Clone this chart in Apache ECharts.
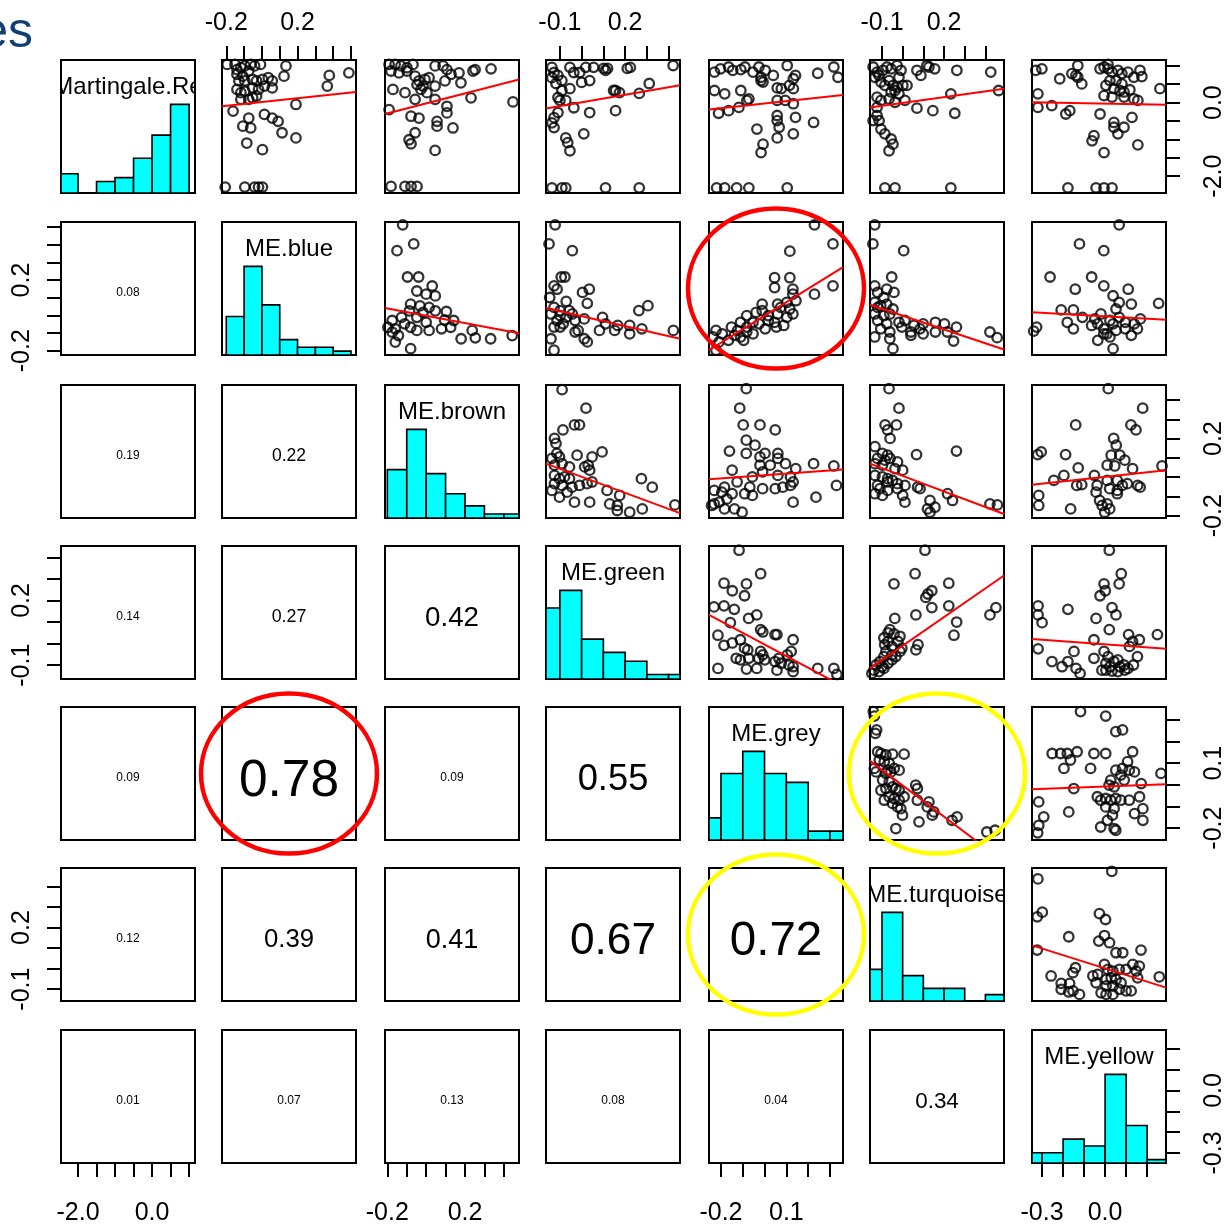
<!DOCTYPE html>
<html>
<head>
<meta charset="utf-8">
<script src="https://cdn.jsdelivr.net/npm/echarts@6/dist/echarts.min.js"></script>
<style>
  html, body { margin: 0; padding: 0; background: #fff; }
  #chart { width: 1230px; height: 1230px; }
</style>
</head>
<body>
<div id="chart"></div>
<script>
// 变量与坐标范围
const varNames = ['Martingale.Re', 'ME.blue', 'ME.brown', 'ME.green', 'ME.grey', 'ME.turquoise', 'ME.yellow']
const axisMin = [-2.46, -0.224, -0.212, -0.164, -0.255, -0.158, -0.348]
const axisMax = [1.16, 0.528, 0.478, 0.4525, 0.36, 0.49, 0.29]
const tickVals = [
  [-2.0, -1.5, -1.0, -0.5, 0.0, 0.5, 1.0],
  [-0.2, -0.1, 0.0, 0.1, 0.2, 0.3, 0.4, 0.5],
  [-0.2, -0.1, 0.0, 0.1, 0.2, 0.3, 0.4],
  [-0.1, 0.0, 0.1, 0.2, 0.3, 0.4],
  [-0.2, -0.1, 0.0, 0.1, 0.2, 0.3],
  [-0.1, 0.0, 0.1, 0.2, 0.3, 0.4],
  [-0.3, -0.2, -0.1, 0.0, 0.1, 0.2]
]
const labelVals = [[-2.0, 0.0], [-0.2, 0.2], [-0.2, 0.2], [-0.1, 0.2], [-0.2, 0.1], [-0.1, 0.2], [-0.3, 0.0]]

// 直方图（分箱边界 + 计数）
const histEdges = [
  [-2.5, -2.0, -1.5, -1.0, -0.5, 0.0, 0.5, 1.0],
  [-0.2, -0.1, 0.0, 0.1, 0.2, 0.3, 0.4, 0.5],
  [-0.2, -0.1, 0.0, 0.1, 0.2, 0.3, 0.4, 0.5],
  [-0.2, -0.1, 0.0, 0.1, 0.2, 0.3, 0.4, 0.5],
  [-0.3, -0.2, -0.1, 0.0, 0.1, 0.2, 0.3, 0.4],
  [-0.2, -0.1, 0.0, 0.1, 0.2, 0.3, 0.4, 0.5],
  [-0.4, -0.3, -0.2, -0.1, 0.0, 0.1, 0.2, 0.3]
]
const histCounts = [
  [5, 0, 3, 4, 9, 15, 23],
  [10, 23, 13, 4, 2, 2, 1],
  [12, 22, 11, 6, 3, 1, 1],
  [16, 20, 9, 6, 4, 1, 1],
  [5, 15, 20, 15, 13, 2, 2],
  [10, 28, 8, 4, 4, 0, 2],
  [3, 3, 7, 5, 26, 11, 1]
]

// 下三角相关系数（按行）
const corValues = [0.08, 0.19, 0.22, 0.14, 0.27, 0.42, 0.09, 0.78, 0.09, 0.55,
  0.12, 0.39, 0.41, 0.67, 0.72, 0.01, 0.07, 0.13, 0.08, 0.04, 0.34]

// 上三角散点 [x, y]：x 为列变量，y 为行变量
const pts01 = [[-0.14,0.90],[-0.118,0.95],[-0.096,1.0],[-0.063,1.04],[-0.041,1.0],[-0.14,0.77],[-0.107,0.72],[-0.074,0.86],[-0.052,0.63],[-0.008,1.04],[-0.129,0.59],[-0.096,0.59],[-0.03,0.59],[0.003,0.63],[0.036,0.68],[0.058,0.59],[-0.14,0.36],[-0.118,0.27],[-0.096,0.31],[-0.052,0.40],[-0.019,0.36],[0.014,0.45],[0.058,0.40],[0.124,0.72],[0.135,1.0],[-0.052,0.13],[-0.118,0.09],[-0.074,0.09],[-0.03,0.18],[-0.162,-0.23],[-0.074,-0.42],[-0.107,-0.64],[-0.063,-0.69],[0.014,-0.32],[0.058,-0.42],[0.091,-0.51],[0.191,-0.05],[0.113,-0.82],[0.191,-0.96],[-0.085,-1.10],[0.003,-1.28],[0.367,0.45],[0.378,0.74],[0.488,0.81],[-0.195,1.04],[-0.151,1.04],[-0.206,-2.30],[-0.096,-2.30],[-0.041,-2.30],[-0.019,-2.30],[0.003,-2.30]]
const pts02 = [[-0.191,1.04],[-0.16,1.04],[-0.13,1.0],[-0.099,0.95],[-0.068,1.04],[-0.181,0.86],[-0.14,0.81],[-0.099,0.86],[-0.057,0.72],[-0.037,0.59],[-0.006,0.63],[0.015,0.68],[0.046,1.0],[0.087,1.0],[0.107,0.90],[0.128,0.77],[-0.016,0.45],[0.004,0.27],[-0.027,0.36],[-0.047,0.49],[0.046,0.45],[0.097,0.59],[0.179,0.54],[0.241,0.86],[0.252,0.90],[0.334,0.92],[-0.171,0.36],[-0.109,0.27],[-0.057,0.09],[0.046,0.09],[0.107,-0.10],[0.107,-0.28],[0.231,0.13],[0.447,0.02],[-0.191,-0.19],[-0.078,-0.37],[-0.037,-0.42],[0.056,-0.51],[0.056,-0.64],[0.138,-0.69],[-0.057,-0.82],[-0.088,-1.01],[-0.078,-1.12],[0.046,-1.30],[0.169,0.81],[-0.181,-2.28],[-0.109,-2.28],[-0.078,-2.28],[-0.047,-2.28]]
const pts03 = [[-0.137,0.96],[-0.127,0.82],[-0.109,0.74],[-0.137,0.68],[-0.091,0.60],[-0.118,0.52],[-0.054,0.96],[-0.036,0.82],[-0.009,0.82],[0.019,0.96],[0.055,0.96],[0.037,0.60],[0.0,0.55],[-0.054,0.38],[-0.091,0.33],[-0.109,0.14],[-0.10,0.06],[-0.073,0.06],[-0.036,-0.14],[0.037,-0.27],[-0.109,-0.27],[-0.127,-0.41],[-0.137,-0.55],[-0.127,-0.68],[-0.073,-0.96],[-0.064,-1.09],[-0.054,-1.31],[0.010,-0.85],[0.110,0.88],[0.147,0.33],[-0.137,-2.32],[-0.091,-2.32],[-0.073,-2.32],[0.101,0.93],[0.119,0.93],[0.210,0.93],[0.224,0.96],[0.421,1.01],[0.156,0.33],[0.174,0.27],[0.265,0.25],[0.311,0.52],[0.156,-0.22],[0.110,-2.32],[0.265,-2.32]]
const pts04 = [[-0.230,0.83],[-0.202,0.92],[-0.165,0.97],[-0.146,0.88],[-0.109,0.90],[-0.090,0.97],[-0.053,0.83],[-0.026,0.97],[0.003,0.88],[-0.016,0.69],[-0.007,0.56],[0.040,0.74],[0.058,0.40],[0.077,0.38],[0.104,1.01],[0.132,0.65],[0.142,0.74],[0.114,0.47],[0.132,0.38],[-0.230,0.33],[-0.183,0.24],[-0.109,0.33],[-0.081,0.06],[-0.072,0.10],[-0.118,-0.13],[-0.165,-0.22],[-0.211,-0.29],[-0.016,0.60],[0.058,0.06],[0.095,0.06],[0.132,-0.03],[0.058,-0.35],[0.058,-0.49],[0.067,-0.67],[0.142,-0.40],[0.225,-0.54],[-0.035,-0.72],[0.058,-0.96],[0.132,-0.85],[-0.007,-1.13],[-0.016,-1.36],[0.318,0.97],[0.337,0.69],[0.244,0.80],[-0.220,-2.32],[-0.183,-2.32],[-0.128,-2.32],[-0.072,-2.32],[0.104,-2.32]]
const pts05 = [[-0.143,0.97],[-0.124,0.83],[-0.134,0.69],[-0.114,0.74],[-0.095,0.88],[-0.076,0.97],[-0.056,0.92],[-0.027,1.01],[-0.008,0.88],[-0.018,0.69],[-0.066,0.60],[-0.105,0.56],[-0.086,0.47],[-0.047,0.47],[-0.027,0.42],[0.001,0.47],[0.021,0.47],[-0.037,0.33],[-0.056,0.29],[-0.018,0.24],[-0.124,0.15],[-0.105,0.06],[-0.066,0.10],[-0.037,0.01],[0.011,0.06],[-0.124,-0.13],[-0.124,-0.35],[-0.143,-0.49],[-0.114,-0.49],[-0.105,-0.72],[-0.086,-0.85],[-0.056,-0.99],[-0.047,-1.13],[-0.066,-1.31],[0.069,0.88],[0.088,0.74],[0.127,0.97],[0.155,0.92],[0.262,0.88],[0.426,0.83],[0.464,0.33],[0.233,0.24],[0.069,-0.15],[0.146,-0.22],[0.252,-0.29],[-0.086,-2.32],[-0.037,-2.32],[0.233,-2.32],[0.117,1.01]]
const pts06 = [[-0.330,0.88],[-0.301,0.92],[-0.320,0.24],[-0.320,-0.13],[-0.254,-0.08],[-0.216,0.65],[-0.158,0.79],[-0.139,0.74],[-0.130,0.69],[-0.130,1.01],[-0.187,-0.31],[-0.168,-0.22],[-0.024,0.92],[-0.005,0.97],[0.014,0.92],[0.033,0.83],[0.061,0.88],[0.080,0.79],[0.109,0.83],[0.137,0.69],[0.166,0.88],[0.175,0.71],[0.023,0.60],[0.052,0.60],[0.080,0.51],[0.004,0.47],[0.042,0.38],[0.071,0.33],[0.090,0.29],[0.118,0.35],[-0.005,0.19],[0.033,0.15],[0.090,0.15],[0.137,0.10],[0.156,0.06],[0.261,0.38],[-0.024,-0.31],[0.042,-0.54],[0.042,-0.67],[0.090,-0.67],[0.128,-0.40],[0.061,-0.85],[-0.053,-0.90],[-0.062,-1.04],[-0.005,-1.36],[0.156,-1.15],[-0.177,-2.32],[-0.043,-2.32],[-0.005,-2.32],[0.033,-2.32],[0.014,1.04],[-0.111,0.51]]
const pts12 = [[-0.121,0.512],[-0.150,0.366],[-0.064,0.404],[-0.096,0.217],[-0.039,0.217],[-0.048,0.138],[0.031,0.166],[0.0,0.120],[0.047,0.110],[-0.080,0.064],[-0.032,0.054],[0.015,0.045],[-0.086,0.026],[-0.016,0.017],[0.047,0.026],[0.104,0.022],[-0.175,-0.029],[-0.127,-0.011],[-0.048,-0.011],[0.0,-0.039],[0.095,-0.026],[0.142,-0.029],[-0.197,-0.067],[-0.159,-0.076],[-0.175,-0.095],[-0.143,-0.114],[-0.080,-0.067],[-0.048,-0.085],[0.015,-0.085],[0.079,-0.076],[0.126,-0.067],[-0.159,-0.151],[-0.080,-0.188],[0.237,-0.085],[0.253,-0.127],[0.332,-0.132],[0.180,-0.132],[0.443,-0.114],[-0.111,-0.048]]
const pts13 = [[-0.122,0.512],[-0.150,0.404],[-0.043,0.366],[-0.094,0.217],[-0.077,0.217],[-0.127,0.167],[-0.113,0.148],[0.004,0.130],[0.035,0.148],[-0.147,0.101],[-0.071,0.079],[0.026,0.068],[-0.127,0.045],[-0.099,0.027],[-0.057,0.027],[-0.141,0.008],[-0.099,-0.001],[-0.071,-0.011],[-0.043,0.008],[-0.113,-0.029],[-0.085,-0.048],[-0.127,-0.066],[-0.099,-0.066],[-0.030,-0.029],[0.012,-0.020],[0.096,-0.011],[0.110,-0.048],[0.166,-0.057],[0.221,-0.057],[0.263,0.027],[0.305,0.055],[0.277,-0.076],[0.152,-0.085],[0.082,-0.085],[-0.016,-0.085],[0.012,-0.132],[0.026,-0.150],[-0.141,-0.132],[-0.127,-0.197],[0.422,-0.085],[0.221,-0.104],[-0.030,-0.094]]
const pts14 = [[-0.223,-0.085],[-0.194,-0.104],[-0.237,-0.122],[-0.209,-0.150],[-0.166,-0.141],[-0.138,-0.113],[-0.110,-0.122],[-0.124,-0.085],[-0.152,-0.066],[-0.082,-0.066],[-0.053,-0.104],[-0.096,-0.141],[-0.110,-0.039],[-0.053,-0.039],[-0.025,-0.048],[-0.082,-0.001],[-0.039,0.017],[-0.011,0.027],[0.003,-0.076],[0.017,-0.029],[0.046,-0.039],[0.060,0.008],[0.054,-0.066],[0.088,-0.057],[0.102,-0.011],[0.060,0.064],[0.102,0.073],[0.116,0.036],[0.130,0.008],[0.144,0.083],[0.130,0.120],[0.130,0.148],[0.046,0.157],[0.046,0.213],[0.116,0.213],[0.116,0.363],[0.229,0.120],[0.314,0.167],[0.314,0.404],[0.229,0.512],[-0.223,-0.197],[-0.082,-0.094],[0.017,-0.001],[-0.011,0.064],[0.074,0.045]]
const pts15 = [[-0.135,0.512],[-0.144,0.404],[0.005,0.366],[-0.053,0.217],[-0.135,0.167],[-0.077,0.148],[-0.121,0.130],[-0.042,0.130],[-0.091,0.101],[-0.135,0.073],[-0.106,0.055],[-0.077,0.064],[-0.047,0.036],[-0.135,0.008],[-0.091,-0.001],[-0.062,0.008],[-0.121,-0.029],[-0.077,-0.048],[-0.018,-0.039],[0.011,-0.029],[-0.106,-0.076],[-0.062,-0.094],[-0.004,-0.066],[0.055,-0.057],[0.099,-0.048],[0.158,-0.039],[0.202,-0.048],[0.260,-0.066],[0.040,-0.094],[0.099,-0.104],[0.158,-0.094],[0.216,-0.094],[-0.135,-0.122],[-0.062,-0.132],[0.040,-0.113],[-0.047,-0.188],[0.246,-0.145],[0.422,-0.094],[0.457,-0.126],[0.084,-0.076],[-0.121,0.045]]
const pts16 = [[0.067,0.512],[-0.122,0.404],[-0.006,0.366],[-0.262,0.217],[-0.064,0.217],[-0.142,0.148],[-0.006,0.167],[0.110,0.148],[0.038,0.111],[-0.209,0.031],[-0.151,0.031],[-0.180,-0.039],[-0.326,-0.066],[-0.340,-0.089],[-0.151,-0.076],[-0.049,-0.020],[-0.020,0.008],[0.052,0.036],[0.067,0.073],[0.125,0.064],[0.255,0.068],[-0.035,-0.048],[-0.006,-0.076],[0.023,-0.029],[0.038,-0.048],[0.067,-0.011],[0.096,-0.039],[0.139,-0.048],[0.168,-0.020],[0.009,-0.104],[0.052,-0.085],[0.096,-0.076],[0.125,-0.113],[0.154,-0.076],[-0.035,-0.141],[0.023,-0.122],[0.038,-0.188],[-0.064,-0.057],[-0.108,-0.011],[-0.006,-0.104]]
const pts23 = [[-0.090,0.454],[0.020,0.358],[-0.033,0.271],[-0.010,0.271],[-0.086,0.245],[-0.125,0.201],[-0.118,0.175],[-0.114,0.123],[-0.137,0.097],[-0.102,0.105],[-0.125,0.062],[-0.090,0.070],[-0.056,0.053],[-0.021,0.114],[0.014,0.053],[0.037,0.036],[0.048,0.105],[0.094,0.131],[0.030,0.062],[-0.125,0.009],[-0.102,-0.008],[-0.079,0.001],[-0.056,-0.008],[-0.125,-0.034],[-0.090,-0.043],[-0.044,-0.052],[-0.010,-0.043],[0.025,-0.034],[0.048,-0.025],[-0.137,-0.069],[-0.102,-0.104],[-0.033,-0.130],[0.037,-0.130],[0.117,-0.069],[0.175,-0.095],[0.129,-0.139],[0.164,-0.147],[0.164,-0.173],[0.221,-0.182],[0.279,-0.165],[0.275,-0.008],[0.325,-0.052],[0.429,-0.144],[-0.067,-0.078]]
const pts24 = [[-0.084,0.459],[-0.114,0.358],[-0.098,0.271],[-0.021,0.271],[0.049,0.245],[-0.084,0.192],[-0.044,0.166],[-0.161,0.135],[-0.084,0.123],[-0.021,0.105],[0.002,0.123],[0.061,0.123],[0.061,0.097],[-0.021,0.062],[0.026,0.062],[0.096,0.070],[0.143,0.044],[0.225,0.070],[0.318,0.058],[-0.149,0.036],[-0.009,0.027],[0.061,0.009],[0.119,0.001],[0.131,-0.025],[-0.056,0.001],[-0.126,-0.025],[-0.184,-0.052],[-0.231,-0.069],[-0.196,-0.078],[-0.149,-0.086],[-0.091,-0.086],[-0.068,-0.052],[-0.009,-0.060],[0.049,-0.060],[0.084,-0.052],[0.119,-0.043],[-0.173,-0.113],[-0.231,-0.139],[-0.184,-0.165],[-0.138,-0.165],[-0.103,-0.182],[-0.056,-0.095],[0.131,-0.130],[0.236,-0.104],[0.330,-0.043],[-0.208,-0.130],[-0.243,-0.147]]
const pts25 = [[-0.066,0.459],[-0.018,0.358],[-0.085,0.271],[-0.030,0.271],[-0.073,0.245],[-0.061,0.201],[-0.134,0.158],[-0.098,0.123],[-0.073,0.114],[-0.061,0.097],[-0.025,0.079],[-0.134,0.070],[-0.098,0.062],[-0.037,0.044],[0.0,0.036],[-0.134,0.009],[-0.098,0.001],[-0.073,-0.008],[-0.049,-0.017],[-0.025,-0.034],[0.011,-0.043],[0.072,-0.052],[0.084,-0.060],[-0.122,-0.043],[-0.110,-0.060],[-0.073,-0.069],[-0.025,-0.060],[-0.134,-0.086],[-0.098,-0.095],[0.0,-0.095],[0.011,-0.130],[0.132,-0.121],[0.120,-0.165],[0.132,-0.182],[0.156,-0.156],[0.241,-0.121],[0.217,-0.086],[0.260,0.135],[0.067,0.117],[0.422,-0.139],[0.458,-0.144],[-0.073,-0.025],[-0.085,0.088],[-0.122,0.097]]
const pts26 = [[0.015,0.459],[0.179,0.358],[-0.140,0.271],[0.123,0.271],[0.147,0.245],[0.041,0.201],[0.053,0.166],[-0.304,0.131],[-0.321,0.117],[-0.188,0.117],[0.029,0.114],[0.070,0.114],[0.094,0.088],[-0.128,0.048],[0.010,0.062],[0.046,0.058],[0.131,0.044],[0.271,0.058],[-0.244,-0.017],[-0.196,0.009],[-0.135,-0.043],[-0.111,-0.039],[-0.038,-0.043],[0.010,-0.017],[0.058,-0.017],[0.082,-0.043],[0.106,-0.034],[0.155,-0.043],[0.167,-0.052],[0.022,-0.060],[0.058,-0.069],[-0.043,-0.078],[-0.316,-0.095],[-0.316,-0.147],[-0.164,-0.165],[-0.026,-0.121],[-0.014,-0.147],[0.010,-0.139],[0.022,-0.165],[-0.002,-0.182],[0.058,-0.086],[-0.051,0.009]]
const pts34 = [[-0.117,0.433],[-0.018,0.324],[-0.186,0.280],[-0.083,0.277],[-0.148,0.245],[-0.092,0.222],[-0.232,0.170],[-0.186,0.175],[-0.139,0.159],[-0.036,0.133],[-0.073,0.117],[-0.157,0.097],[-0.018,0.065],[-0.008,0.054],[0.048,0.042],[0.057,0.042],[-0.214,0.039],[0.131,0.018],[-0.111,0.018],[-0.148,0.003],[-0.186,-0.008],[-0.092,-0.021],[-0.077,-0.029],[-0.018,-0.036],[-0.008,-0.052],[-0.130,-0.068],[-0.111,-0.075],[-0.073,-0.068],[-0.027,-0.068],[0.001,-0.075],[0.066,-0.068],[0.104,-0.052],[0.122,-0.036],[0.048,-0.083],[0.076,-0.091],[0.112,-0.099],[0.131,-0.107],[0.057,-0.123],[0.131,-0.130],[-0.036,-0.115],[-0.083,-0.118],[-0.214,-0.115],[0.244,-0.115],[0.318,-0.115],[0.332,-0.143]]
const pts35 = [[0.108,0.433],[0.060,0.324],[-0.042,0.277],[0.141,0.245],[0.122,0.230],[0.223,0.280],[0.112,0.214],[0.141,0.167],[0.223,0.175],[0.451,0.167],[0.422,0.133],[0.064,0.133],[-0.038,0.117],[0.261,0.100],[0.248,0.039],[0.074,-0.005],[0.064,-0.029],[-0.062,0.065],[-0.071,0.050],[-0.042,0.045],[-0.091,0.026],[-0.013,0.034],[-0.087,-0.005],[-0.052,-0.013],[-0.023,0.010],[-0.004,-0.021],[-0.081,-0.036],[-0.052,-0.052],[-0.033,-0.060],[-0.091,-0.060],[-0.110,-0.083],[-0.071,-0.091],[-0.052,-0.075],[-0.129,-0.099],[-0.100,-0.107],[-0.139,-0.123],[-0.114,-0.130],[-0.149,-0.138],[-0.091,-0.115],[-0.013,-0.036],[-0.071,0.010]]
const pts36 = [[0.020,0.433],[0.077,0.324],[0.067,0.277],[-0.005,0.277],[0.001,0.245],[-0.024,0.222],[-0.319,0.175],[-0.319,0.133],[-0.300,0.097],[-0.177,0.159],[0.033,0.167],[-0.043,0.117],[0.052,0.133],[0.020,0.065],[0.112,0.042],[0.163,0.018],[0.249,0.042],[-0.053,0.018],[-0.319,-0.024],[-0.253,-0.083],[-0.205,-0.107],[-0.177,-0.083],[-0.138,-0.115],[-0.119,-0.138],[-0.148,-0.036],[-0.053,-0.068],[-0.005,-0.036],[0.014,-0.060],[0.004,-0.091],[0.023,-0.107],[0.004,-0.123],[0.042,-0.083],[0.061,-0.075],[0.071,-0.107],[0.090,-0.099],[0.109,-0.115],[0.116,-0.013],[0.131,0.010],[0.154,-0.060],[-0.015,-0.123],[0.033,-0.127],[0.061,-0.130],[0.094,-0.123],[0.135,-0.099]]
const pts45 = [[-0.142,0.339],[-0.137,0.318],[-0.126,0.254],[-0.132,0.238],[-0.121,0.153],[-0.105,0.145],[-0.081,0.138],[-0.049,0.142],[0.007,0.142],[-0.113,0.115],[-0.089,0.107],[-0.065,0.099],[-0.041,0.076],[-0.017,0.068],[-0.137,0.076],[-0.129,0.060],[-0.081,0.053],[-0.057,0.060],[-0.097,0.022],[-0.065,0.014],[-0.081,-0.017],[-0.105,-0.025],[-0.049,-0.009],[-0.033,-0.017],[-0.017,-0.025],[-0.065,-0.055],[-0.041,-0.063],[-0.089,-0.071],[-0.017,-0.071],[0.007,-0.055],[-0.049,-0.086],[-0.025,-0.102],[-0.009,-0.110],[-0.001,-0.140],[0.063,-0.001],[0.071,-0.017],[0.071,-0.071],[0.127,-0.079],[0.119,-0.102],[0.151,-0.125],[0.143,-0.140],[0.079,-0.171],[0.239,-0.164],[0.263,-0.148],[0.407,-0.218],[0.447,-0.210],[-0.033,-0.202],[-0.073,0.068]]
const pts46 = [[-0.117,0.339],[0.003,0.318],[0.051,0.246],[0.083,0.254],[-0.252,0.145],[-0.212,0.145],[-0.180,0.145],[-0.133,0.153],[-0.165,0.115],[-0.196,0.076],[-0.053,0.145],[0.003,0.145],[0.131,0.153],[-0.069,0.076],[0.107,0.107],[0.051,0.068],[0.083,0.076],[0.115,0.068],[0.140,0.060],[0.075,0.045],[0.027,0.022],[0.091,0.022],[0.172,0.006],[0.266,0.053],[-0.149,-0.017],[0.019,-0.001],[0.043,-0.009],[-0.316,-0.079],[-0.292,-0.148],[-0.316,-0.187],[-0.321,-0.222],[-0.173,-0.125],[-0.037,-0.055],[-0.021,-0.071],[0.003,-0.063],[0.027,-0.071],[0.051,-0.063],[0.075,-0.071],[0.115,-0.071],[0.164,-0.055],[0.003,-0.102],[0.043,-0.110],[0.180,-0.110],[0.140,-0.133],[0.180,-0.164],[0.035,-0.140],[-0.021,-0.195],[0.043,-0.202],[0.051,-0.210],[0.011,-0.164]]
const pts56 = [[0.032,0.474],[-0.320,0.437],[-0.299,0.275],[-0.323,0.252],[-0.027,0.268],[0.002,0.239],[-0.173,0.155],[-0.030,0.134],[-0.003,0.161],[0.021,0.126],[0.052,0.077],[0.084,0.077],[0.171,0.090],[-0.323,0.090],[-0.257,-0.036],[-0.209,-0.072],[-0.169,-0.072],[-0.209,-0.101],[-0.173,-0.114],[-0.122,-0.126],[-0.153,-0.109],[-0.141,0.004],[-0.153,-0.020],[-0.058,-0.036],[-0.035,-0.028],[-0.003,0.020],[0.013,-0.004],[0.037,-0.012],[0.068,-0.004],[0.100,-0.004],[0.132,0.020],[0.163,0.012],[0.148,-0.012],[0.005,-0.053],[0.029,-0.045],[0.052,-0.053],[0.076,-0.069],[0.005,-0.085],[0.037,-0.085],[0.068,-0.101],[0.100,-0.109],[0.124,-0.109],[0.005,-0.126],[0.037,-0.126],[0.258,-0.040],[0.155,-0.045],[-0.043,-0.069],[-0.019,-0.118]]

// 拟合线：左端 y、右端 y
const line01 = [-0.10, 0.29], line02 = [-0.31, 0.63], line03 = [-0.16, 0.47], line04 = [-0.19, 0.21], line05 = [-0.13, 0.38], line06 = [0.01, -0.06]
const line12 = [0.042, -0.101], line13 = [0.042, -0.132], line14 = [-0.197, 0.273], line15 = [0.060, -0.193], line16 = [0.018, -0.025]
const line23 = [0.070, -0.187], line24 = [-0.011, 0.039], line25 = [0.070, -0.191], line26 = [-0.039, 0.036]
const line34 = [0.133, -0.198], line35 = [-0.115, 0.316], line36 = [0.021, -0.024]
const line45 = [0.111, -0.356], line46 = [-0.020, 0.003]
const line56 = [0.113, -0.093]

const scatterSets = {
  '0-1': [pts01, line01], '0-2': [pts02, line02], '0-3': [pts03, line03], '0-4': [pts04, line04], '0-5': [pts05, line05], '0-6': [pts06, line06],
  '1-2': [pts12, line12], '1-3': [pts13, line13], '1-4': [pts14, line14], '1-5': [pts15, line15], '1-6': [pts16, line16],
  '2-3': [pts23, line23], '2-4': [pts24, line24], '2-5': [pts25, line25], '2-6': [pts26, line26],
  '3-4': [pts34, line34], '3-5': [pts35, line35], '3-6': [pts36, line36],
  '4-5': [pts45, line45], '4-6': [pts46, line46],
  '5-6': [pts56, line56]
}

// 布局
const FONT = '"Liberation Sans", Arial, sans-serif'
const colLeft = [61, 222, 385, 546, 709, 870, 1032]
const rowTop = [60, 222, 385, 546, 707, 868, 1030]
const cellW = 134
const cellH = 133
const N = varNames.length

const grids = [], xAxes = [], yAxes = [], series = []

const tickStyle = { show: true, length: 14, inside: false, lineStyle: { color: '#000', width: 2 } }
const labelBase = { show: true, color: '#000', fontSize: 25, fontFamily: FONT, formatter: v => v.toFixed(1) }

function valueAxis (k, v, pos, isY) {
  const ax = {
    type: 'value', gridIndex: k, min: axisMin[v], max: axisMax[v],
    splitLine: { show: false }, axisLine: { show: false, onZero: false }
  }
  if (!pos) {
    ax.show = false
    return ax
  }
  const margins = { top: 24, bottom: 38, left: 26, right: 36 }
  ax.position = pos
  ax.axisTick = Object.assign({ customValues: tickVals[v] }, tickStyle)
  ax.axisLabel = Object.assign({ customValues: labelVals[v], margin: margins[pos], rotate: isY ? 90 : 0 }, labelBase)
  return ax
}

for (let i = 0; i < N; i++) {
  for (let j = 0; j < N; j++) {
    const k = i * N + j
    grids.push({
      left: colLeft[j], top: rowTop[i], width: cellW, height: cellH,
      show: true, borderColor: '#000', borderWidth: 2, backgroundColor: 'transparent'
    })
    let xPos = null, yPos = null
    if (i === 0 && j % 2 === 1) xPos = 'top'
    if (i === N - 1 && j % 2 === 0) xPos = 'bottom'
    if (j === 0 && i % 2 === 1) yPos = 'left'
    if (j === N - 1 && i % 2 === 0) yPos = 'right'
    xAxes.push(valueAxis(k, j, xPos, false))
    yAxes.push(valueAxis(k, i, yPos, true))
  }
}

// 对角线直方图使用独立的 y 轴
for (let i = 0; i < N; i++) {
  yAxes.push({
    type: 'value', gridIndex: i * N + i, min: 0, max: 1.5 * Math.max(...histCounts[i]), show: false,
    axisLine: { show: false, onZero: false }
  })
}

for (let i = 0; i < N; i++) {
  for (let j = 0; j < N; j++) {
    const k = i * N + j
    if (i === j) {
      const edges = histEdges[i]
      series.push({
        type: 'custom', xAxisIndex: k, yAxisIndex: N * N + i, silent: true, clip: true,
        data: histCounts[i].map((c, b) => [edges[b], edges[b + 1], c]),
        renderItem: (params, api) => {
          const cs = params.coordSys
          const p0 = api.coord([api.value(0), 0])
          const p1 = api.coord([api.value(1), api.value(2)])
          const x0 = Math.max(p0[0], cs.x)
          const x1 = Math.min(p1[0], cs.x + cs.width)
          if (x1 <= x0) return null
          return {
            type: 'rect',
            shape: { x: x0, y: p1[1], width: x1 - x0, height: p0[1] - p1[1] },
            style: { fill: '#00ffff', stroke: '#000', lineWidth: 1.6 }
          }
        }
      })
      // 变量名
      series.push({
        type: 'custom', xAxisIndex: k, yAxisIndex: k, silent: true, clip: true, z: 5,
        data: [[0, 0]],
        renderItem: (params) => {
          const cs = params.coordSys
          return {
            type: 'text', x: cs.x + cs.width / 2, y: cs.y + 27,
            style: { text: varNames[i], fill: '#000', fontSize: 24, fontFamily: FONT, align: 'center', verticalAlign: 'middle' }
          }
        }
      })
    } else if (i < j) {
      const [pts, fit] = scatterSets[i + '-' + j]
      series.push({
        type: 'scatter', xAxisIndex: k, yAxisIndex: k, silent: true,
        data: pts, symbol: 'circle', symbolSize: 9.5,
        itemStyle: { color: 'rgba(0,0,0,0)', borderColor: '#000', borderWidth: 2.3 }
      })
      series.push({
        type: 'line', xAxisIndex: k, yAxisIndex: k, silent: true, clip: true, z: 3,
        data: [[axisMin[j], fit[0]], [axisMax[j], fit[1]]],
        symbol: 'none', lineStyle: { color: '#ff0000', width: 2 }
      })
    } else {
      const idx = i * (i - 1) / 2 + j
      const r = corValues[idx]
      const size = r < 0.2 ? 12 : Math.max(17.5, 66 * r)
      series.push({
        type: 'custom', xAxisIndex: k, yAxisIndex: k, silent: true,
        data: [[0, 0]],
        renderItem: (params) => {
          const cs = params.coordSys
          return {
            type: 'text', x: cs.x + cs.width / 2, y: cs.y + cs.height / 2 + 3 + 0.1 * size,
            style: { text: r.toFixed(2), fill: '#000', fontSize: size, fontFamily: FONT, align: 'center', verticalAlign: 'middle' }
          }
        }
      })
    }
  }
}

// 标注圈
const marks = [
  { i: 1, j: 4, color: '#ff0000' },
  { i: 4, j: 1, color: '#ff0000' },
  { i: 4, j: 5, color: '#ffff00' },
  { i: 5, j: 4, color: '#ffff00' }
]
const graphics = marks.map(m => ({
  type: 'ellipse', z: 100, silent: true,
  shape: { cx: colLeft[m.j] + cellW / 2, cy: rowTop[m.i] + cellH / 2, rx: 88, ry: 80 },
  style: { fill: 'none', stroke: m.color, lineWidth: 4.5 }
}))
graphics.push({
  type: 'text', z: 100, silent: true, x: 33, y: 58,
  style: { text: 'es', fill: '#123f73', fontSize: 50, fontFamily: FONT, align: 'right', verticalAlign: 'bottom' }
})

const chart = echarts.init(document.getElementById('chart'))
chart.setOption({
  animation: false,
  backgroundColor: '#fff',
  grid: grids,
  xAxis: xAxes,
  yAxis: yAxes,
  series: series,
  graphic: graphics
})
</script>
</body>
</html>
